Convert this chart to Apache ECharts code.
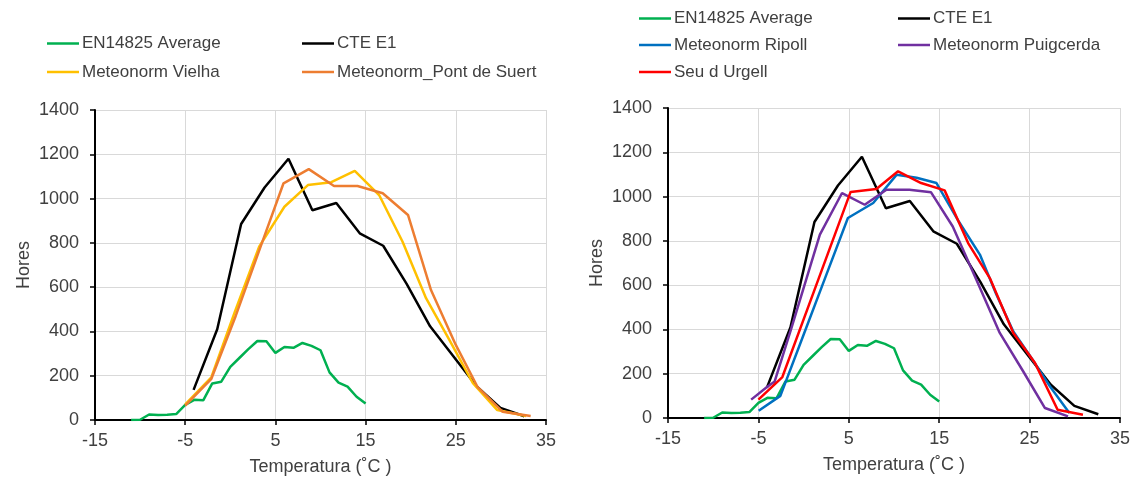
<!DOCTYPE html>
<html>
<head>
<meta charset="utf-8">
<script src="https://cdn.jsdelivr.net/npm/echarts@6/dist/echarts.min.js"></script>
<style>
  html, body { margin: 0; padding: 0; background: #ffffff; }
  #chart { width: 1136px; height: 481px; }
</style>
</head>
<body>
<div id="chart"></div>
<script>
// Tick values shared by both panels
const tempTicks = [-15, -5, 5, 15, 25, 35];
const hourTicks = [0, 200, 400, 600, 800, 1000, 1200, 1400];

// EN14825 average climate: bin temperature (°C) and hours
const enTemps = [-11, -10, -9, -8, -7, -6, -5, -4, -3, -2, -1, 0, 1, 2, 3, 4, 5, 6, 7, 8, 9, 10, 11, 12, 13, 14, 15];
const enHours = [0, 1, 25, 23, 24, 27, 68, 91, 89, 165, 173, 240, 280, 320, 357, 356, 303, 330, 326, 348, 335, 315, 215, 169, 151, 105, 74];

// CTE climate zone E1
const cteTemps = [-4.07, -1.45, 1.2, 3.8, 6.45, 9.1, 11.75, 14.35, 16.95, 19.55, 22.15, 24.75, 27.35, 29.95, 32.6];
const cteHours = [136, 410, 885, 1050, 1180, 947, 980, 843, 787, 615, 423, 287, 150, 55, 17];

// Meteonorm Vielha
const vielhaTemps = [-5.0, -2.1, 0.5, 3.2, 6.0, 8.6, 11.2, 13.8, 16.5, 19.1, 21.7, 24.3, 26.9, 29.6, 32.8];
const vielhaHours = [71, 193, 488, 783, 963, 1061, 1074, 1125, 1016, 805, 550, 361, 166, 45, 18];

// Meteonorm Pont de Suert
const pontTemps = [-5.0, -2.1, 0.6, 3.3, 5.9, 8.7, 11.5, 14.1, 16.9, 19.7, 22.25, 25.0, 27.4, 30.2, 33.3];
const pontHours = [65, 186, 470, 776, 1069, 1133, 1057, 1057, 1024, 926, 587, 339, 150, 37, 18];

// Meteonorm Ripoll
const ripollTemps = [-4.97, -2.57, 0.0, 2.5, 4.9, 7.7, 10.3, 12.5, 14.7, 17.2, 19.5, 21.3, 23.2, 25.2, 27.3, 29.4];
const ripollHours = [33, 100, 376, 645, 903, 971, 1099, 1085, 1061, 885, 738, 560, 391, 271, 140, 23];

// Meteonorm Puigcerda
const puigTemps = [-5.8, -4.05, -3.2, -1.4, 1.8, 4.25, 6.76, 9.16, 11.7, 14.1, 16.5, 19.1, 21.7, 24.3, 26.7, 29.25];
const puigHours = [83, 140, 165, 399, 828, 1016, 963, 1031, 1031, 1019, 865, 625, 384, 210, 45, 7];

// Seu d'Urgell
const seuTemps = [-5.0, -2.35, 1.4, 5.2, 8.05, 10.45, 13.0, 15.6, 18.2, 20.6, 23.2, 25.6, 28.1, 30.9];
const seuHours = [83, 185, 600, 1021, 1034, 1114, 1061, 1028, 790, 632, 384, 248, 37, 15];

const pairs = (xs, ys) => xs.map((x, i) => [x, ys[i]]);

const FONT = '"Liberation Sans", Arial, sans-serif';
const TEXT = '#404040';

const colors = {
  'EN14825 Average': '#00B050',
  'CTE E1': '#000000',
  'Meteonorm Vielha': '#FFC000',
  'Meteonorm_Pont de Suert': '#ED7D31',
  'Meteonorm Ripoll': '#0070C0',
  'Meteonorm Puigcerda': '#7030A0',
  'Seu d Urgell': '#FF0000'
};

// plain integers, no thousands separator
const plain = v => String(v);

function xAxis(gridIndex) {
  return {
    type: 'value', gridIndex,
    min: tempTicks[0], max: tempTicks[tempTicks.length - 1], interval: 10,
    name: 'Temperatura (˚C )', nameLocation: 'middle', nameGap: 38,
    nameTextStyle: { fontFamily: FONT, fontSize: 18, color: TEXT },
    axisLine: { onZero: false, lineStyle: { color: '#000', width: 2 } },
    axisTick: { show: true, length: 5, lineStyle: { color: '#000', width: 1.5 } },
    axisLabel: { margin: 12, fontFamily: FONT, fontSize: 18, color: TEXT, formatter: plain },
    splitLine: { show: true, lineStyle: { color: '#d9d9d9', width: 1 } }
  };
}

function yAxis(gridIndex) {
  return {
    type: 'value', gridIndex,
    min: hourTicks[0], max: hourTicks[hourTicks.length - 1], interval: 200,
    name: 'Hores', nameLocation: 'middle', nameGap: 62,
    nameTextStyle: { fontFamily: FONT, fontSize: 18, color: TEXT },
    axisLine: { show: true, onZero: false, lineStyle: { color: '#000', width: 2 } },
    axisTick: { show: true, length: 5, lineStyle: { color: '#000', width: 1.5 } },
    axisLabel: { margin: 16, fontFamily: FONT, fontSize: 18, color: TEXT, formatter: plain },
    splitLine: { show: true, lineStyle: { color: '#d9d9d9', width: 1 } }
  };
}

function line(name, data, axisIndex) {
  return {
    type: 'line', name, data,
    xAxisIndex: axisIndex, yAxisIndex: axisIndex,
    showSymbol: false, symbol: 'none',
    lineStyle: { color: colors[name], width: 2.5 },
    itemStyle: { color: colors[name] },
    emphasis: { disabled: true }
  };
}

function legendItem(name, left, cy) {
  return {
    data: [name], left, top: cy - 10, padding: 0,
    icon: 'rect', itemWidth: 32, itemHeight: 2.5,
    textStyle: { fontFamily: FONT, fontSize: 17, color: TEXT, lineHeight: 20, padding: [0, 0, 0, -2] },
    selectedMode: false
  };
}

const chart = echarts.init(document.getElementById('chart'), null, { renderer: 'canvas' });

chart.setOption({
  animation: false,
  backgroundColor: '#ffffff',
  color: Object.values(colors),
  legend: [
    legendItem('EN14825 Average', 47, 43.5),
    legendItem('CTE E1', 302, 43.5),
    legendItem('Meteonorm Vielha', 47, 72),
    legendItem('Meteonorm_Pont de Suert', 302, 72),
    legendItem('EN14825 Average', 639, 18.5),
    legendItem('CTE E1', 898, 18.5),
    legendItem('Meteonorm Ripoll', 639, 45),
    legendItem('Meteonorm Puigcerda', 898, 45),
    legendItem('Seu d Urgell', 639, 72)
  ],
  grid: [
    { left: 95, top: 110, width: 451, height: 310 },
    { left: 668, top: 108, width: 452, height: 310 }
  ],
  xAxis: [xAxis(0), xAxis(1)],
  yAxis: [yAxis(0), yAxis(1)],
  series: [
    line('EN14825 Average', pairs(enTemps, enHours), 0),
    line('CTE E1', pairs(cteTemps, cteHours), 0),
    line('Meteonorm Vielha', pairs(vielhaTemps, vielhaHours), 0),
    line('Meteonorm_Pont de Suert', pairs(pontTemps, pontHours), 0),
    line('EN14825 Average', pairs(enTemps, enHours), 1),
    line('CTE E1', pairs(cteTemps, cteHours), 1),
    line('Meteonorm Ripoll', pairs(ripollTemps, ripollHours), 1),
    line('Meteonorm Puigcerda', pairs(puigTemps, puigHours), 1),
    line('Seu d Urgell', pairs(seuTemps, seuHours), 1)
  ]
});
</script>
</body>
</html>
